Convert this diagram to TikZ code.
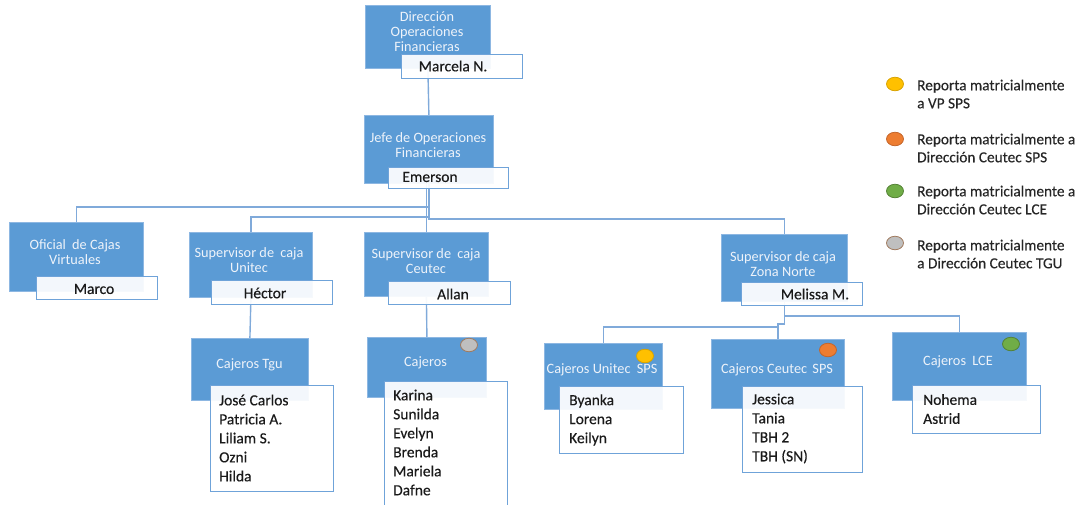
\documentclass[tikz,border=0pt]{standalone}
\usepackage{fontspec}
\setmainfont{Carlito}
\newfontfamily\inkfont{Carlito}[FakeBold=0.3]
\usetikzlibrary{shapes.geometric,backgrounds}
\definecolor{boxblue}{HTML}{5B9BD5}
\definecolor{boxedge}{HTML}{8DB7E2}
\definecolor{nameedge}{HTML}{6FA3D9}
\definecolor{connblue}{HTML}{80AADA}
\definecolor{titletxt}{HTML}{EEF3FA}
\definecolor{nametxt}{HTML}{1A1A1A}
\definecolor{legtxt}{HTML}{262626}
\definecolor{dotyellow}{HTML}{FFC000}
\definecolor{dotyellowedge}{HTML}{D9A300}
\definecolor{dotorange}{HTML}{ED7D31}
\definecolor{dotorangeedge}{HTML}{C4652A}
\definecolor{dotgreen}{HTML}{70AD47}
\definecolor{dotgreenedge}{HTML}{548235}
\definecolor{dotgray}{HTML}{BFBFBF}
\definecolor{dotgrayedge}{HTML}{A07A5E}
\begin{document}
\begin{tikzpicture}[x=1pt,y=-1pt,
  unit/.style={rectangle, fill=boxblue, draw=boxedge, line width=0.8pt, inner sep=0pt, anchor=north west},
  namebox/.style={rectangle, fill=white, fill opacity=0.93, draw=nameedge, line width=1.1pt, inner sep=0pt, anchor=north west},
  title/.style={text=titletxt, font=\fontsize{14.3}{15.5}\selectfont, align=center, inner sep=0pt},
  person/.style={text=nametxt, font=\inkfont\fontsize{15.5}{19}\selectfont, inner sep=0pt},
  roster/.style={person, align=left, anchor=west},
  conn/.style={draw=connblue, line width=1.4pt},
  dot/.style={ellipse, minimum width=17pt, minimum height=13.5pt, inner sep=0pt, line width=0.8pt},
  legend/.style={text=legtxt, font=\inkfont\fontsize{15.3}{18}\selectfont, align=left, anchor=west, inner sep=0pt}]
\useasboundingbox (0,0) rectangle (1086,504);

% ---- blue unit boxes ----
\node[unit, minimum width=125pt, minimum height=63pt] (dir) at (365,5) {};
\node[unit, minimum width=129pt, minimum height=68pt] (jefe) at (364,115) {};
\node[unit, minimum width=134pt, minimum height=69pt] (ofi) at (9,222) {};
\node[unit, minimum width=123pt, minimum height=65pt] (unitec) at (189,232) {};
\node[unit, minimum width=124pt, minimum height=64pt] (ceutec) at (364,232) {};
\node[unit, minimum width=126pt, minimum height=67pt] (norte) at (721,234) {};
\node[unit, minimum width=117pt, minimum height=62pt] (tgu) at (191,338) {};
\node[unit, minimum width=119pt, minimum height=60pt] (cajc) at (367,337) {};
\node[unit, minimum width=118pt, minimum height=66pt] (usps) at (544,343) {};
\node[unit, minimum width=133pt, minimum height=69pt] (csps) at (711,339) {};
\node[unit, minimum width=134pt, minimum height=68pt] (lce) at (892,332) {};

% ---- white name boxes ----
\node[namebox, minimum width=121pt, minimum height=24pt] (dirN) at (401,54) {};
\node[namebox, minimum width=120pt, minimum height=21pt] (jefeN) at (388,167) {};
\node[namebox, minimum width=121pt, minimum height=23pt] (ofiN) at (36,276) {};
\node[namebox, minimum width=121pt, minimum height=24pt] (unitecN) at (211,280) {};
\node[namebox, minimum width=122pt, minimum height=23pt] (ceutecN) at (388,281) {};
\node[namebox, minimum width=121pt, minimum height=23pt] (norteN) at (741,282) {};
\node[namebox, minimum width=123pt, minimum height=106pt] (tguN) at (210,385) {};
\node[namebox, minimum width=123pt, minimum height=125pt] (cajcN) at (384,381) {};
\node[namebox, minimum width=124pt, minimum height=67pt] (uspsN) at (559,386) {};
\node[namebox, minimum width=120pt, minimum height=86pt] (cspsN) at (742,386) {};
\node[namebox, minimum width=128pt, minimum height=48pt] (lceN) at (912,385) {};

% ---- titles ----
\node[title, font=\fontsize{14.3}{15}\selectfont] (dirT) at (427,32) {Dirección\\Operaciones\\Financieras};
\node[title] (jefeT) at (428,145) {Jefe de Operaciones\\Financieras};
\node[title] (ofiT) at (75,252) {Oficial\hspace{3pt} de Cajas\\Virtuales};
\node[title] (unitecT) at (249,260) {Supervisor de\hspace{3pt} caja\\Unitec};
\node[title] (ceutecT) at (426,261) {Supervisor de\hspace{3pt} caja\\Ceutec};
\node[title] (norteT) at (783,264) {Supervisor de caja\\Zona Norte};
\node[title] (tguT) at (249.5,365) {Cajeros Tgu};
\node[title] (cajcT) at (425.5,363) {Cajeros};
\node[title] (uspsT) at (602,370) {Cajeros Unitec\hspace{3pt} SPS};
\node[title] (cspsT) at (777,370) {Cajeros Ceutec\hspace{2pt} SPS};
\node[title] (lceT) at (958,362) {Cajeros\hspace{3pt} LCE};

% ---- names ----
\node[person] (dirP) at (453,66) {Marcela N.};
\node[person] (jefeP) at (430,177) {Emerson};
\node[person] (ofiP) at (94,289) {Marco};
\node[person] (unitecP) at (265,293) {Héctor};
\node[person] (ceutecP) at (453,294) {Allan};
\node[person] (norteP) at (815,294) {Melissa M.};

\node[roster] (tguL) at (219,438) {José Carlos\\Patricia A.\\Liliam S.\\Ozni\\Hilda};
\node[roster] (cajcL) at (393,442.5) {Karina\\Sunilda\\Evelyn\\Brenda\\Mariela\\Dafne};
\node[roster] (uspsL) at (569,420) {Byanka\\Lorena\\Keilyn};
\node[roster] (cspsL) at (752,428.5) {Jessica\\Tania\\TBH 2\\TBH (SN)};
\node[roster] (lceL) at (923,409) {Nohema\\Astrid};

% ---- status dots on units ----
\node[dot, fill=dotgray, draw=dotgrayedge] (cajcD) at (469,345) {};
\node[dot, fill=dotyellow, draw=dotyellowedge] (uspsD) at (645,356) {};
\node[dot, fill=dotorange, draw=dotorangeedge] (cspsD) at (828,350) {};
\node[dot, fill=dotgreen, draw=dotgreenedge] (lceD) at (1011,344) {};

% ---- legend ----
\node[dot, fill=dotyellow, draw=dotyellowedge] (legY) at (895,84) {};
\node[dot, fill=dotorange, draw=dotorangeedge] (legO) at (895,139) {};
\node[dot, fill=dotgreen, draw=dotgreenedge] (legG) at (895,191) {};
\node[dot, fill=dotgray, draw=dotgrayedge] (legR) at (895,243) {};
\node[legend] (legYT) at (917,94) {Reporta matricialmente\\a VP SPS};
\node[legend] (legOT) at (917,148) {Reporta matricialmente a\\Dirección Ceutec SPS};
\node[legend] (legGT) at (917,200) {Reporta matricialmente a\\Dirección Ceutec LCE};
\node[legend] (legRT) at (917,254) {Reporta matricialmente\\a Dirección Ceutec TGU};

% ---- reporting lines ----
\begin{pgfonlayer}{background}
\draw[conn] (dir.south) -- (jefe.north);
\draw[conn] (jefe.south) -- ++(0,23) -| (ofi.north);
\draw[conn] (jefe.south) -- ++(0,33) -| (unitec.north);
\draw[conn] (jefe.south -| ceutec.north) -- (ceutec.north);
\draw[conn] (jefe.south) -- ++(0,35) -| (norte.north);
\draw[conn] (unitec.south) -- (tgu.north);
\draw[conn] (ceutec.south) -- (cajc.north);
\draw[conn] (norte.south) -- ++(0,14) -| (lce.north);
\draw[conn] (norte.south) -- ++(0,22) -| (csps.north);
\draw[conn] (csps.north) ++(0,-12) -| (usps.north);
\end{pgfonlayer}
\end{tikzpicture}
\end{document}
